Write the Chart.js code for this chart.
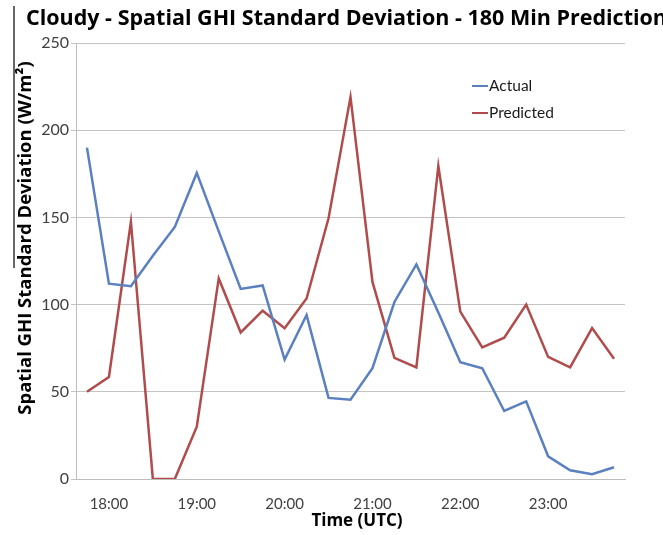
<!DOCTYPE html>
<html><head><meta charset="utf-8">
<script src="https://cdn.jsdelivr.net/npm/chart.js@4"></script>
<style>html,body{margin:0;padding:0;background:#fff;overflow:hidden}</style>
</head><body>
<canvas id="c" width="663" height="535"></canvas>
<script>
const TITLE = 'Cloudy - Spatial GHI Standard Deviation - 180 Min Prediction';
const X_TITLE = 'Time (UTC)';
const Y_TITLE = 'Spatial GHI Standard Deviation (W/m\u00B2)';
const categories = ['17:45','18:00','18:15','18:30','18:45','19:00','19:15','19:30','19:45','20:00','20:15','20:30','20:45','21:00','21:15','21:30','21:45','22:00','22:15','22:30','22:45','23:00','23:15','23:30','23:45'];
const hourLabels = ['18:00','19:00','20:00','21:00','22:00','23:00'];
const actual = [190, 112, 110.5, 128, 144.5, 175.5, 142, 109, 111, 68.5, 94, 46.5, 45.5, 63.5, 101.5, 123, 95.5, 67, 63.5, 39, 44.5, 13, 5, 2.7, 6.7];
const predicted = [50, 58.5, 147.5, 0, 0, 30, 115, 84, 96.5, 86.5, 103.5, 149.5, 219, 113, 69.5, 64, 179.5, 96, 75.5, 81, 100, 70, 64, 86.5, 69];
const seriesNames = ['Actual', 'Predicted'];
const yMin = 0, yMax = 250, yStep = 50;

const FONT = 'Lato, "Open Sans", sans-serif';
const TFONT = '"Open Sans", Lato, sans-serif';
const BLUE = '#5A80C0';
const RED = '#B04C4C';

const decor = {
  id: 'decor',
  afterDraw(chart) {
    const ctx = chart.ctx;
    ctx.save();
    // left edge rule from source crop
    ctx.strokeStyle = '#333';
    ctx.lineWidth = 1.5;
    ctx.beginPath(); ctx.moveTo(14, 6); ctx.lineTo(14, 268); ctx.stroke();
    // title
    ctx.fillStyle = '#000';
    ctx.font = 'bold 21.5px ' + TFONT;
    ctx.textAlign = 'left';
    ctx.textBaseline = 'alphabetic';
    ctx.fillText(TITLE, 26, 25);
    // x title
    ctx.font = 'bold 17px ' + TFONT;
    ctx.textAlign = 'center';
    ctx.textBaseline = 'middle';
    ctx.fillText(X_TITLE, 357, 521);
    // y title
    ctx.save();
    ctx.translate(26, 238);
    ctx.rotate(-Math.PI / 2);
    ctx.font = 'bold 18.5px ' + TFONT;
    ctx.fillText(Y_TITLE, 0, 0);
    ctx.restore();
    // legend
    const items = chart.data.datasets;
    ctx.font = '15.5px ' + FONT;
    ctx.textAlign = 'left';
    ctx.textBaseline = 'middle';
    items.forEach((ds, i) => {
      const y = 86 + i * 27;
      ctx.strokeStyle = ds.borderColor;
      ctx.lineWidth = 2;
      ctx.beginPath(); ctx.moveTo(472, y); ctx.lineTo(488, y); ctx.stroke();
      ctx.fillStyle = '#1a1a1a';
      ctx.fillText(ds.label, 489, y);
    });
    ctx.restore();
  }
};

new Chart(document.getElementById('c'), {
  type: 'line',
  data: {
    labels: categories,
    datasets: [
      { label: seriesNames[0], data: actual, borderColor: BLUE, backgroundColor: BLUE, borderWidth: 2.5, pointRadius: 0, tension: 0, fill: false },
      { label: seriesNames[1], data: predicted, borderColor: RED, backgroundColor: RED, borderWidth: 2.5, pointRadius: 0, tension: 0, fill: false }
    ]
  },
  options: {
    responsive: false,
    animation: false,
    devicePixelRatio: 1,
    layout: { padding: { top: 43, right: 38, left: 0, bottom: 0 } },
    plugins: { legend: { display: false }, title: { display: false }, tooltip: { enabled: false } },
    scales: {
      x: {
        type: 'category',
        offset: true,
        grid: { display: false },
        border: { display: true, color: '#BDBDBD', width: 1 },
        ticks: {
          autoSkip: false, maxRotation: 0, minRotation: 0, padding: 8,
          color: '#404040', font: { family: FONT, size: 15 },
          callback: function(v, i) { const l = categories[i]; return hourLabels.includes(l) ? l : ''; }
        },
        afterFit: s => { s.height = 56; }
      },
      y: {
        min: yMin, max: yMax,
        grid: { color: '#C4C4C4', lineWidth: 1, tickLength: 5, drawTicks: true },
        border: { display: true, color: '#BDBDBD', width: 1 },
        ticks: { stepSize: yStep, padding: 2, color: '#404040', font: { family: FONT, size: 16 } },
        afterFit: s => { s.width = 76; }
      }
    }
  },
  plugins: [decor]
});
</script>
</body></html>
